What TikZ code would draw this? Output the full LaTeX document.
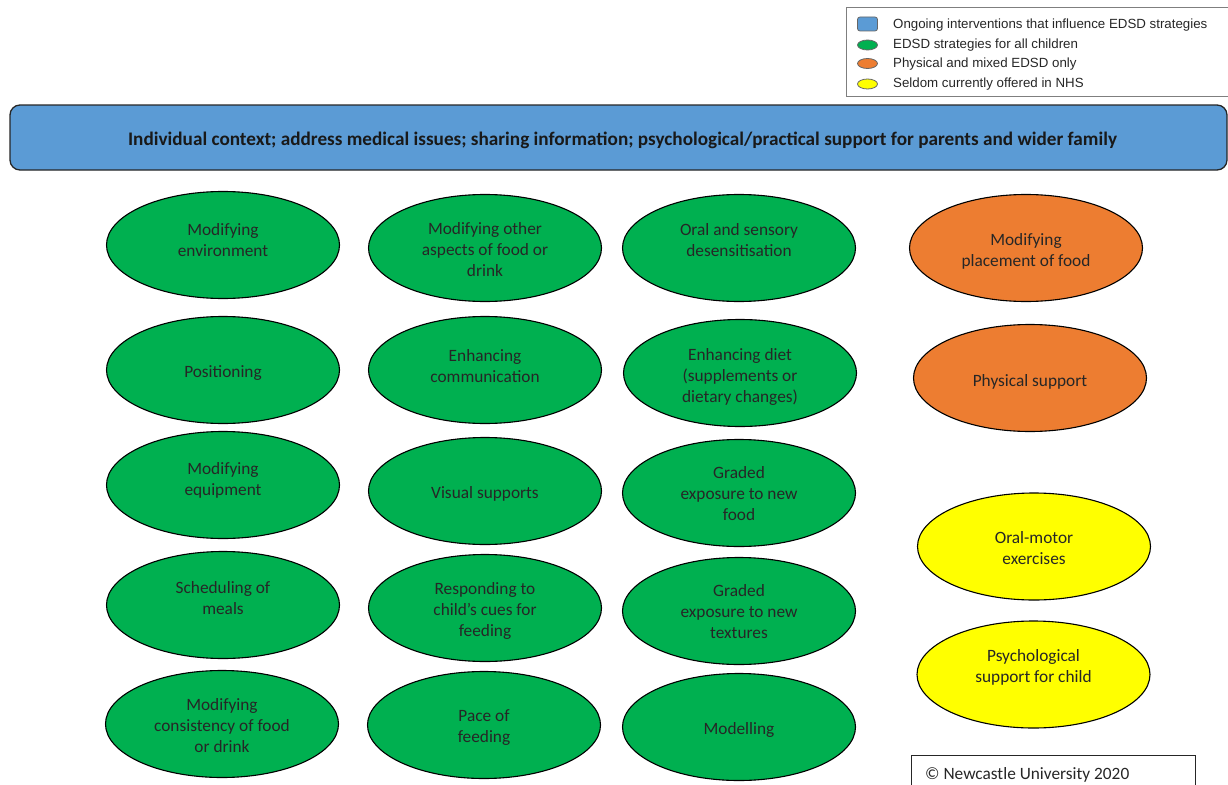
\documentclass[tikz,border=0pt]{standalone}
\usepackage{fontspec}
\setmainfont{Carlito}
\newfontfamily\legendfont{Liberation Sans}
\usetikzlibrary{shapes.geometric}

\definecolor{bannerblue}{HTML}{5B9BD5}
\definecolor{edsdgreen}{HTML}{00B050}
\definecolor{edsdorange}{HTML}{ED7D31}
\definecolor{edsdyellow}{HTML}{FFFF00}
\definecolor{framegray}{HTML}{7F7F7F}

\tikzset{
  strategy/.style={ellipse, draw=black, line width=1.1pt, minimum width=233pt,
    minimum height=107pt, inner sep=0pt},
  allkids/.style={strategy, fill=edsdgreen},
  physical/.style={strategy, fill=edsdorange},
  seldom/.style={strategy, fill=edsdyellow},
  stratlabel/.style={inner sep=0pt, align=center,
    font=\fontsize{17.3}{21}\selectfont, text=black!85},
  keyicon/.style={draw=black!60, line width=0.8pt, minimum width=20pt, inner sep=0pt},
  keytext/.style={anchor=west, inner sep=0pt, font=\legendfont\fontsize{13.3}{15}\selectfont, text=black!85}
}

% an ellipse with its own, separately placed, label
% #1 style, #2 name, #3 ellipse centre, #4 label centre, #5 text
\newcommand\strategynode[5]{%
  \node[#1] (#2) at (#3) {};
  \node[stratlabel] (#2-text) at (#4) {#5};}

\begin{document}
\begin{tikzpicture}[x=1pt,y=-1pt]
\useasboundingbox (0,0) rectangle (1228,784);

% key
\node[draw=framegray, line width=1pt, minimum width=400pt, minimum height=89pt,
      anchor=north west, inner sep=0pt] (key) at (846,7) {};
\node[keyicon, rectangle, rounded corners=2.5pt, fill=bannerblue, minimum height=14pt] (k1) at (867.5,24) {};
\node[keyicon, ellipse, fill=edsdgreen, minimum height=10pt] (k2) at (867.5,45) {};
\node[keyicon, ellipse, fill=edsdorange, minimum height=10pt] (k3) at (867.5,63.5) {};
\node[keyicon, ellipse, fill=edsdyellow, minimum height=10pt] (k4) at (867.5,84) {};
\node[keytext] (t1) at (893,25) {Ongoing interventions that influence EDSD strategies};
\node[keytext] (t2) at (893,45) {EDSD strategies for all children};
\node[keytext] (t3) at (893,64.5) {Physical and mixed EDSD only};
\node[keytext] (t4) at (893,84.5) {Seldom currently offered in NHS};

% banner of ongoing interventions
\node[draw=black!85, line width=1.3pt, fill=bannerblue, rounded corners=10pt,
      minimum width=1217pt, minimum height=65pt, inner sep=0pt] (banner) at (618.5,137.5) {};
\node[inner sep=0pt, font=\bfseries\fontsize{19.2}{23}\selectfont, text=black!90] (banner-text) at (622.5,140)
  {Individual context; address medical issues; sharing information; psychological/practical support for parents and wider family};

% column 1
\strategynode{allkids}{env}{223,245}{223,240}{Modifying\\environment}
\strategynode{allkids}{pos}{223,370}{223,373}{Positioning}
\strategynode{allkids}{equip}{223,485}{223,480.5}{Modifying\\equipment}
\strategynode{allkids}{sched}{223,605}{223,598}{Scheduling of\\meals}
\strategynode{allkids}{cons}{222,724}{222,726}{Modifying\\consistency of food\\or drink}

% column 2
\strategynode{allkids}{other}{485,248}{485,250}{Modifying other\\aspects of food or\\drink}
\strategynode{allkids}{comm}{485,370}{485,366}{Enhancing\\communication}
\strategynode{allkids}{vis}{485,491}{485,494}{Visual supports}
\strategynode{allkids}{cues}{485,608}{485,611}{Responding to\\child’s cues for\\feeding}
\strategynode{allkids}{pace}{484,725}{484,728}{Pace of\\feeding}

% column 3
\strategynode{allkids}{oral}{739,248}{739,240}{Oral and sensory\\desensitisation}
\strategynode{allkids}{diet}{740,373}{740,377}{Enhancing diet\\(supplements or\\dietary changes)}
\strategynode{allkids}{food}{739,493}{739,494}{Graded\\exposure to new\\food}
\strategynode{allkids}{tex}{739,611}{739,612}{Graded\\exposure to new\\textures}
\strategynode{allkids}{model}{739,727}{739,730}{Modelling}

% column 4
\strategynode{physical}{place}{1026,248}{1026,251}{Modifying\\placement of food}
\strategynode{physical}{phys}{1030,378}{1030,382}{Physical support}
\strategynode{seldom}{motor}{1034,546.5}{1034,548}{Oral-motor\\exercises}
\strategynode{seldom}{psych}{1033.5,674.5}{1033.5,667}{Psychological\\support for child}

% copyright
\node[draw=black!85, line width=1pt, minimum width=284pt, minimum height=40pt,
      anchor=north west, inner sep=0pt] (copy) at (911,755) {};
\node[anchor=base west, inner sep=0pt, font=\fontsize{17.3}{21}\selectfont, text=black!85]
  (copytext) at (925,779) {© Newcastle University 2020};
\end{tikzpicture}
\end{document}
